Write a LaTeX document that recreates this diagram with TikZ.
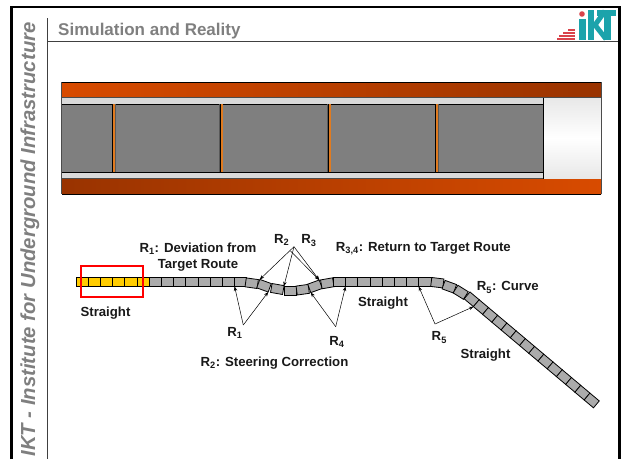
\documentclass[tikz,border=0pt]{standalone}
\usepackage{fontspec}
\setmainfont{Liberation Sans}
\usetikzlibrary{arrows.meta}
\definecolor{slidegray}{HTML}{7F7F7F}
\definecolor{pipegray}{HTML}{ABABAB}
\definecolor{pipeyellow}{HTML}{FFCC00}
\definecolor{rockdark}{HTML}{993300}
\definecolor{rocklight}{HTML}{D84B00}
\definecolor{jointcol}{HTML}{E07B20}
\definecolor{logoteal}{HTML}{1CA3AB}
\definecolor{logored}{HTML}{D9434B}
\tikzset{
  label/.style={font=\bfseries\fontsize{13.2}{16}\selectfont, text=black!90, inner sep=0pt, align=center},
  segment/.style={draw=black, line width=0.8pt, fill=pipegray, minimum width=12.2pt, minimum height=9pt, inner sep=0pt, outer sep=0pt},
  yellowseg/.style={segment, fill=pipeyellow},
  pointer/.style={-{Stealth[length=4.5pt,width=3.5pt]}, line width=0.5pt},
}
\begin{document}
\begin{tikzpicture}[x=1pt,y=-1pt]
  \useasboundingbox (0,0) rectangle (624,459);
  % slide frame
  \draw[line width=2.7pt] (11.5,459) -- (11.5,7) -- (619.5,7) -- (619.5,459);
  \draw[line width=0.8pt, black!75] (47.5,18) -- (47.5,459);
  \draw[line width=0.8pt, black!75] (47.5,41) -- (618,41);
  \node (sidebar) [rotate=90, font=\bfseries\itshape\fontsize{20.3}{24}\selectfont, text=slidegray, inner sep=0pt] at (30,239.5) {IKT - Institute for Underground Infrastructure};
  \node (title) [anchor=west, font=\bfseries\fontsize{17}{20}\selectfont, text=slidegray, inner sep=0pt] at (58,31) {Simulation and Reality};
  % logo
  \fill[logored] (582,14) circle (2.8);
  \fill[logoteal] (579,19) rectangle (585.5,40);
  \fill[logoteal] (587.5,10) rectangle (593.5,40);
  \draw[logoteal, line width=5pt] (605,11) -- (595,25) -- (606,39);
  \fill[logoteal] (597,10) rectangle (616,16);
  \fill[logoteal] (604,10) rectangle (611,40);
  \foreach \y/\xs in {30/568, 33/563, 36/559, 39/557}
    \draw[logored, line width=1.2pt] (\xs,\y) -- (575,\y);
  % tunnel
  \shade[left color=rocklight, right color=rockdark] (62,82) rectangle (601,97);
  \shade[left color=rockdark, right color=rocklight] (62,179) rectangle (601,194);
  \draw[line width=0.8pt] (62,194) -- (601,194) (62,82) -- (601,82);
  \fill[black!15] (62,97) rectangle (543,179);
  \draw[line width=0.8pt, black!70] (62,97.5) -- (601,97.5) (62,178.5) -- (601,178.5);
  \fill[slidegray] (62,104) rectangle (543,172);
  \draw[line width=1pt] (62,104) -- (543,104) (62,172) -- (543,172);
  \shade[top color=black!9, bottom color=black!9, middle color=white] (543,98) rectangle (601,178);
  \draw[line width=0.8pt] (543,97.5) -- (543,178.5);
  \draw[line width=1pt, black!70] (61.5,82) -- (61.5,194) (601.5,82) -- (601.5,194);
  \foreach \x in {112.5,220,328,435.5} {
    \fill[black!65] (\x-0.8,104) rectangle (\x+3.4,172);
    \fill[jointcol] (\x,104) rectangle (\x+2.6,172);
    \draw[line width=0.5pt] (\x+0.1,104) -- (\x+0.1,172);
  }
  % pipe string
  \foreach \i in {1,...,6}
    \node (seg\i) [yellowseg] at ({82.1+12.2*(\i-1)},282) {};
  \foreach \i in {7,...,14}
    \node (seg\i) [segment] at ({82.1+12.2*(\i-1)},282) {};
  \foreach \i/\cx/\cy/\ang in {15/251.7/283.2/-8, 16/264/285.7/-20, 17/277.3/289/-10, 18/290/290.7/0, 19/302.7/289.7/8, 20/315/286.3/20, 21/327.3/283.3/10}
    \node (seg\i) [segment, rotate=\ang] at (\cx,\cy) {};
  \foreach \i in {22,...,29}
    \node (seg\i) [segment] at ({339.4+12.2*(\i-22)},282) {};
  \foreach \i/\cx/\cy/\ang in {30/437.3/282.7/-7, 31/449.3/286.7/-20, 32/460.7/292.3/-32, 33/471.7/299.3/-40}
    \node (seg\i) [segment, rotate=\ang] at (\cx,\cy) {};
  \foreach \i in {34,...,46}
    \node (seg\i) [segment, rotate=-40] at ({471.7+9.23*(\i-33)},{299.3+7.78*(\i-33)}) {};
  \node (frame) [draw=red, line width=1.3pt, minimum width=62pt, minimum height=31pt, inner sep=0pt] at (112,281.5) {};
  % labels
  \node (straighta) [label] at (105.5,313) {Straight};
  \node (straightb) [label] at (383,303) {Straight};
  \node (straightc) [label] at (485.5,355.5) {Straight};
  \node (deviation) [label] at (198,257) {R\textsubscript{1}: Deviation from\\Target Route};
  \node (steering) [label] at (274.5,363) {R\textsubscript{2}: Steering Correction};
  \node (returnto) [label, anchor=west] at (335.7,248.5) {R\textsubscript{3,4}: Return to Target Route};
  \node (curve) [label, anchor=west] at (476.7,287.5) {R\textsubscript{5}: Curve};
  \node (Rone) [label] at (235,333) {R\textsubscript{1}};
  \node (Rtwo) [label] at (281.7,240) {R\textsubscript{2}};
  \node (Rthree) [label] at (309,240.5) {R\textsubscript{3}};
  \node (Rfour) [label] at (337,342) {R\textsubscript{4}};
  \node (Rfive) [label] at (439.3,337.5) {R\textsubscript{5}};
  % pointers
  \coordinate (apexone) at (243.3,325);
  \coordinate (apextwo) at (294,246.7);
  \coordinate (apexthree) at (290.5,251);
  \coordinate (apexfour) at (335.7,326.7);
  \coordinate (apexfive) at (435,324);
  \draw[pointer] (apexone) -- (seg13.south east);
  \draw[pointer] (apexone) -- (seg16.south east);
  \draw[pointer] (apextwo) -- (seg16.north west);
  \draw[pointer] (apextwo) -- (seg18.north west);
  \draw[pointer] (apextwo) -- (seg20.north east);
  \draw[pointer] (apexthree) -- (seg20.north east);
  \draw[pointer] (apexfour) -- (seg20.south west);
  \draw[pointer] (apexfour) -- (seg22.south east);
  \draw[pointer] (apexfive) -- (seg28.south east);
  \draw[pointer] (apexfive) -- (seg33.south east);
\end{tikzpicture}
\end{document}
